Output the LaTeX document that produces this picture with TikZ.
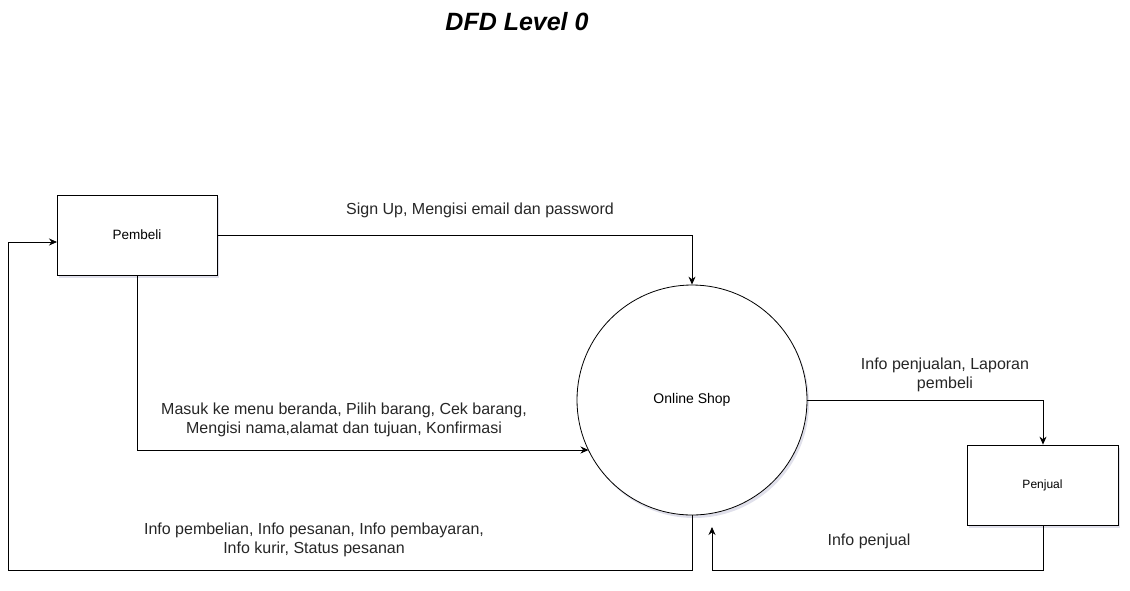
\documentclass[tikz,border=0pt]{standalone}
\usepackage{fontspec}
\setmainfont{Liberation Sans}
\usetikzlibrary{arrows.meta,shadows}
\tikzset{
  entity/.style={draw=black, fill=white, line width=0.8pt, minimum width=160pt, minimum height=80pt, inner sep=0pt,
    drop shadow={shadow xshift=2pt, shadow yshift=-3pt, opacity=0.2, fill=blue!20!gray}},
  proc/.style={draw=black, fill=white, line width=0.8pt, circle, minimum size=230pt, inner sep=0pt,
    drop shadow={shadow xshift=2pt, shadow yshift=-3pt, opacity=0.2, fill=blue!20!gray}},
  flow/.style={line width=0.8pt, -{Stealth[length=8pt,width=7pt]}},
  lbl/.style={align=center, font=\fontsize{16}{19.5}\selectfont, text=black!85, inner sep=0pt},
}
\begin{document}
\begin{tikzpicture}[x=1pt,y=-1pt]
\useasboundingbox (0,0) rectangle (1130,590);
% title
\node[font=\fontsize{25}{30}\selectfont\bfseries\itshape] (title) at (517,22) {DFD Level 0};
% nodes
\node[entity, font=\fontsize{13.5}{16}\selectfont] (pembeli) at (137,235) {Pembeli};
\node[proc, font=\fontsize{14}{16}\selectfont] (shop) at (692,400) {Online Shop};
\node[entity, minimum width=151pt, font=\fontsize{12}{14}\selectfont] (penjual) at (1042.5,485) {Penjual};
% coordinates
\coordinate (c1) at (692,235);
\coordinate (c2a) at (137,450);
\coordinate (c2b) at (588.5,450);
\coordinate (c3a) at (692,570);
\coordinate (c3b) at (8,570);
\coordinate (c3c) at (8,242);
\coordinate (c3d) at (57,242);
\coordinate (c4a) at (1043,400);
\coordinate (c5a) at (1043,570);
\coordinate (c5b) at (712,570);
\coordinate (c5c) at (712,527);
% flows
\draw[flow] (pembeli.east) -- (c1) -- (shop.north);
\draw[flow] (pembeli.south) -- (c2a) -- (c2b);
\draw[flow] (shop.south) -- (c3a) -- (c3b) -- (c3c) -- (c3d);
\draw[flow] (shop.east) -- (c4a) -- (penjual.north -| c4a);
\draw[flow] (penjual.south -| c5a) -- (c5a) -- (c5b) -- (c5c);
% labels
\node[lbl] (l1) at (480,210) {Sign Up, Mengisi email dan password};
\node[lbl] (l2) at (344,420) {Masuk ke menu beranda, Pilih barang, Cek barang,\\Mengisi nama,alamat dan tujuan, Konfirmasi};
\node[lbl] (l3) at (314,540) {Info pembelian, Info pesanan, Info pembayaran,\\Info kurir, Status pesanan};
\node[lbl] (l4) at (945,375) {Info penjualan, Laporan\\pembeli};
\node[lbl] (l5) at (869,541) {Info penjual};
\end{tikzpicture}
\end{document}
